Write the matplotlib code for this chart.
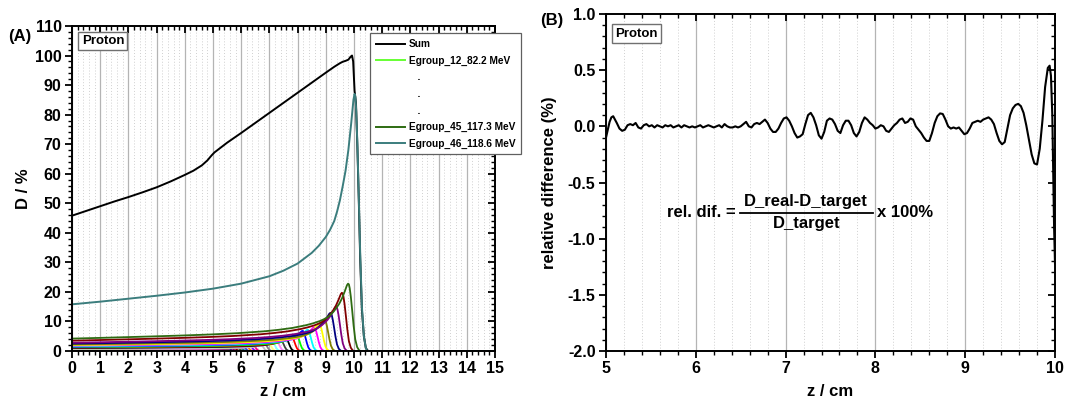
import numpy as np
import matplotlib
matplotlib.use("Agg")
import matplotlib.pyplot as plt
from matplotlib.lines import Line2D
from matplotlib.ticker import MultipleLocator

plt.rcParams['font.family'] = ['Liberation Sans', 'DejaVu Sans']
plt.rcParams['font.weight'] = 'bold'

# ---------------- Panel A data ----------------
sum_z = [0, 0.5, 1, 1.5, 2, 2.5, 3, 3.5, 4, 4.3, 4.6, 4.8, 4.95, 5.05, 5.5, 6, 6.5, 7, 7.5,
         8, 8.5, 9, 9.3, 9.5, 9.6, 9.7, 9.8, 9.88, 9.93, 9.97, 10.02, 10.07, 10.12, 10.17,
         10.22, 10.28, 10.35, 10.42, 10.5, 15]
sum_d = [45.8, 47.4, 49.0, 50.6, 52.1, 53.7, 55.4, 57.4, 59.6, 61.0, 62.8, 64.5, 66.2, 67.2,
         70.5, 73.8, 77.2, 80.6, 84.0, 87.4, 90.8, 94.2, 96.2, 97.4, 97.9, 98.2, 98.6, 99.6,
         100.0, 98.0, 88.0, 84.0, 69.0, 51.0, 31.0, 14.0, 5.0, 1.0, 0.0, 0.0]

# Egroup_46 (largest contribution)
g46_z = [0, 1, 2, 3, 4, 5, 6, 7, 7.5, 8, 8.5, 8.75, 9, 9.15, 9.3, 9.4, 9.5, 9.6, 9.7, 9.8,
         9.85, 9.9, 9.95, 9.98, 10.02]
g46_d = [15.8, 16.7, 17.7, 18.7, 19.8, 21.1, 22.8, 25.3, 27.2, 29.6, 33.2, 35.6, 38.6, 41.0,
         44.0, 47.2, 51.0, 55.8, 61.0, 68.0, 72.5, 77.0, 82.0, 85.0, 87.0]
g46_fall_dz = [0.03, 0.06, 0.10, 0.15, 0.20, 0.26, 0.33, 0.40, 0.45]
g46_fall_d = [86.0, 81.0, 70.0, 52.0, 33.0, 15.0, 5.0, 1.0, 0.0]

# Egroups 12..45: peak depth, peak dose, entrance dose
grp_ids = list(range(12, 46))
grp_peak_z = [4.98, 5.07, 5.16, 5.25, 5.34, 5.43, 5.53, 5.63, 5.73, 5.84, 5.95, 6.06,
              6.18, 6.30, 6.42, 6.55, 6.68, 6.82, 6.96, 7.10, 7.25, 7.40, 7.58, 7.78,
              7.95, 8.17, 8.35, 8.58, 8.76, 8.95, 9.16, 9.36, 9.57, 9.79]
grp_peak_d = [0.7, 0.75, 0.8, 0.85, 0.9, 0.95, 1.0, 1.1, 1.2, 1.3, 1.4, 1.5, 1.6, 1.7,
              1.8, 2.0, 2.2, 2.4, 2.6, 2.9, 3.2, 3.6, 4.2, 4.8, 5.5, 6.8, 7.2, 8.0, 9.2,
              10.5, 12.9, 15.0, 19.7, 22.8]
grp_entr_d = [0.30, 0.32, 0.34, 0.36, 0.38, 0.40, 0.42, 0.45, 0.48, 0.50, 0.52, 0.55,
              0.58, 0.60, 0.65, 0.70, 0.75, 0.80, 0.85, 0.90, 0.95, 1.00, 1.10, 1.20,
              1.30, 1.45, 1.60, 1.80, 2.00, 2.20, 2.50, 2.80, 3.50, 4.20]
grp_colors = ['#66ff33', '#0000ff', '#00ffff', '#ff00ff', '#ffff00', '#808000', '#000080',
              '#800080', '#800000', '#2e6b12', '#008080', '#3333cc', '#ff8000', '#8000ff',
              '#ff0080', '#ffffff', '#c0c0c0', '#808080', '#ffff80', '#80ffff', '#ff80ff',
              '#404040', '#000000', '#ff0000', '#00ff00', '#0000ff', '#00ffff', '#ff00ff',
              '#ffff00', '#808000', '#000080', '#800080', '#800000', '#2e6b12']
g46_color = '#3b7d7d'

# ---------------- Panel B data ----------------
rd_z = [5.00, 5.02, 5.04, 5.06, 5.08, 5.10, 5.12, 5.15, 5.18, 5.21, 5.24, 5.27, 5.30, 5.33,
        5.36, 5.39, 5.42, 5.45, 5.48, 5.51, 5.54, 5.57, 5.60, 5.63, 5.66, 5.69, 5.72, 5.75,
        5.78, 5.81, 5.84, 5.87, 5.90, 5.93, 5.96, 5.99, 6.02, 6.05, 6.08, 6.11, 6.14, 6.17,
        6.20, 6.23, 6.26, 6.29, 6.32, 6.35, 6.38, 6.41, 6.44, 6.47, 6.50, 6.53, 6.56, 6.59,
        6.62, 6.65, 6.68, 6.71, 6.74, 6.77, 6.80, 6.83, 6.86, 6.89, 6.92, 6.95, 6.98, 7.01,
        7.04, 7.07, 7.10, 7.13, 7.16, 7.19, 7.22, 7.25, 7.28, 7.31, 7.34, 7.37, 7.40, 7.43,
        7.46, 7.49, 7.52, 7.55, 7.58, 7.61, 7.64, 7.67, 7.70, 7.73, 7.76, 7.79, 7.82, 7.85,
        7.88, 7.91, 7.94, 7.97, 8.00, 8.03, 8.06, 8.09, 8.12, 8.15, 8.18, 8.21, 8.24, 8.27,
        8.30, 8.33, 8.36, 8.39, 8.42, 8.45, 8.48, 8.51, 8.54, 8.57, 8.60, 8.63, 8.66, 8.69,
        8.72, 8.75, 8.78, 8.81, 8.84, 8.87, 8.90, 8.93, 8.96, 8.99, 9.02, 9.05, 9.08, 9.11,
        9.14, 9.17, 9.20, 9.23, 9.26, 9.29, 9.32, 9.35, 9.38, 9.41, 9.44, 9.47, 9.50, 9.53,
        9.56, 9.59, 9.62, 9.65, 9.68, 9.71, 9.74, 9.77, 9.80, 9.83, 9.86, 9.89, 9.92, 9.94,
        9.955, 9.97, 9.98, 9.99, 10.0]
rd_v = [-0.10, -0.03, 0.04, 0.08, 0.09, 0.06, 0.03, -0.02, -0.04, -0.03, 0.01, 0.02, 0.01,
        0.03, -0.01, -0.02, 0.01, 0.02, 0.00, 0.01, -0.01, 0.01, 0.00, -0.01, 0.01, 0.00,
        0.01, -0.01, 0.00, 0.01, -0.01, 0.01, 0.00, -0.01, 0.00, -0.01, 0.00, 0.01, -0.01,
        0.00, 0.01, 0.00, -0.01, 0.00, 0.01, -0.01, 0.02, 0.00, -0.01, -0.01, 0.00, -0.01,
        0.00, 0.02, 0.04, 0.00, -0.01, 0.02, 0.03, 0.02, 0.04, 0.06, 0.03, -0.02, -0.05,
        -0.05, -0.02, 0.03, 0.07, 0.08, 0.05, 0.00, -0.06, -0.10, -0.09, -0.07, 0.02, 0.10,
        0.12, 0.08, 0.01, -0.08, -0.11, -0.05, 0.05, 0.07, 0.06, 0.02, -0.04, -0.06, 0.01,
        0.05, 0.05, 0.01, -0.06, -0.09, -0.05, 0.03, 0.08, 0.06, 0.03, 0.01, -0.02, -0.01,
        0.01, 0.00, -0.04, -0.05, -0.02, 0.01, 0.03, 0.06, 0.07, 0.03, 0.04, 0.07, 0.06,
        0.00, -0.03, -0.06, -0.10, -0.13, -0.13, -0.06, 0.03, 0.09, 0.115, 0.11, 0.06, 0.00,
        -0.02, -0.01, -0.02, -0.01, -0.04, -0.07, -0.06, -0.02, 0.03, 0.04, 0.05, 0.04, 0.06,
        0.07, 0.08, 0.06, 0.02, -0.06, -0.13, -0.16, -0.14, -0.02, 0.10, 0.16, 0.19, 0.20,
        0.18, 0.12, 0.01, -0.12, -0.25, -0.33, -0.34, -0.20, 0.05, 0.35, 0.52, 0.54, 0.45,
        0.10, -0.40, -0.90, -1.22]

# ---------------- Figure ----------------
W, H = 1067, 403
fig = plt.figure(figsize=(W / 100, H / 100), dpi=100)
axA = fig.add_axes([72 / W, 1 - 351 / H, (495 - 72) / W, (351 - 26) / H])
axB = fig.add_axes([606 / W, 1 - 351 / H, (1055 - 606) / W, (351 - 14) / H])

TICK_FS = 11.5
LABEL_FS = 12


def style_axes(ax):
    for s in ax.spines.values():
        s.set_linewidth(1.4)
    ax.tick_params(which='both', top=True, right=True, labelsize=TICK_FS, pad=2.5)
    ax.tick_params(which='major', length=5, width=1.3)
    ax.tick_params(which='minor', length=3, width=1.0)
    ax.tick_params(which='both', direction='out')
    ax.grid(True, which='major', axis='x', color='#b4b4b4', lw=0.9, ls='-')
    ax.grid(True, which='minor', axis='x', color='#d0d0d0', lw=0.7, ls=(0, (1, 2)))
    ax.set_axisbelow(True)
    for lab in ax.get_xticklabels() + ax.get_yticklabels():
        lab.set_fontweight('bold')


# Panel A
axA.plot(sum_z, sum_d, color='black', lw=1.4, label='Sum')
for gid, pz, pd, ed, col in zip(grp_ids, grp_peak_z, grp_peak_d, grp_entr_d, grp_colors):
    tz = np.array(g46_z)
    td = np.array(g46_d)
    g = (td - td[0]) / (td[-1] - td[0])
    zz = np.concatenate([tz / g46_z[-1] * pz, pz + np.array(g46_fall_dz) * pz / g46_z[-1], [15]])
    dd = np.concatenate([ed + (pd - ed) * g, pd * np.array(g46_fall_d) / g46_d[-1], [0]])
    axA.plot(zz, dd, color=col, lw=1.3)
z46 = list(g46_z) + [g46_z[-1] + d for d in g46_fall_dz] + [15]
d46 = list(g46_d) + list(g46_fall_d) + [0]
axA.plot(z46, d46, color=g46_color, lw=1.4)

axA.set_xlim(0, 15)
axA.set_ylim(0, 110)
axA.xaxis.set_major_locator(MultipleLocator(1))
axA.xaxis.set_minor_locator(MultipleLocator(0.2))
axA.yaxis.set_major_locator(MultipleLocator(10))
axA.yaxis.set_minor_locator(MultipleLocator(2))
style_axes(axA)
axA.set_xlabel('z / cm', fontsize=LABEL_FS, fontweight='bold')
axA.set_ylabel('D / %', fontsize=LABEL_FS, fontweight='bold')
axA.xaxis.set_label_coords(0.5, -0.10)
axA.yaxis.set_label_coords(-0.098, 0.5)

axA.text(0.073, 0.954, 'Proton', transform=axA.transAxes, ha='center', va='center',
         fontsize=9.5, fontweight='bold',
         bbox=dict(boxstyle='square,pad=0.25', fc='white', ec='#707070', lw=1.0))

blank = Line2D([], [], color='none')
handles = [Line2D([], [], color='black', lw=1.4), Line2D([], [], color='#66ff33', lw=1.4),
           blank, blank, blank,
           Line2D([], [], color='#2e6b12', lw=1.4), Line2D([], [], color=g46_color, lw=1.4)]
labels = ['Sum', 'Egroup_12_82.2 MeV', '   .', '   .', '   .',
          'Egroup_45_117.3 MeV', 'Egroup_46_118.6 MeV']
leg = axA.legend(handles, labels, loc='upper left', bbox_to_anchor=(0.705, 0.977),
                 prop={'size': 7.3, 'weight': 'bold', 'family': 'Liberation Sans'},
                 handlelength=2.9, handletextpad=0.35, labelspacing=0.65, borderpad=0.55,
                 borderaxespad=0.0, fancybox=False, framealpha=1, edgecolor='#606060')
leg.get_frame().set_linewidth(0.9)
leg.set_zorder(10)

# Panel B
axB.plot(rd_z, rd_v, color='black', lw=1.5)
axB.set_xlim(5, 10)
axB.set_ylim(-2.0, 1.0)
axB.xaxis.set_major_locator(MultipleLocator(1))
axB.xaxis.set_minor_locator(MultipleLocator(0.2))
axB.yaxis.set_major_locator(MultipleLocator(0.5))
axB.yaxis.set_minor_locator(MultipleLocator(0.1))
style_axes(axB)
axB.yaxis.set_major_formatter(matplotlib.ticker.FormatStrFormatter('%.1f'))
axB.set_xlabel('z / cm', fontsize=LABEL_FS, fontweight='bold')
axB.set_ylabel('relative difference (%)', fontsize=LABEL_FS, fontweight='bold')
axB.xaxis.set_label_coords(0.5, -0.098)
axB.yaxis.set_label_coords(-0.11, 0.5)

axB.text(0.067, 0.942, 'Proton', transform=axB.transAxes, ha='center', va='center',
         fontsize=9.5, fontweight='bold',
         bbox=dict(boxstyle='square,pad=0.25', fc='white', ec='#707070', lw=1.0))

# formula
FML_FS = 12
axB.text(6.44, -0.77, 'rel. dif. =', ha='right', va='center', fontsize=FML_FS,
         fontweight='bold')
axB.text(7.23, -0.735, 'D_real-D_target', ha='center', va='bottom', fontsize=FML_FS,
         fontweight='bold')
axB.text(7.23, -0.80, 'D_target', ha='center', va='top', fontsize=FML_FS, fontweight='bold')
axB.add_line(Line2D([6.49, 7.97], [-0.77, -0.77], color='black', lw=1.3))
axB.text(8.02, -0.77, 'x 100%', ha='left', va='center', fontsize=FML_FS, fontweight='bold')

# inward mirrored ticks on top/right
for ax in (axA, axB):
    ax.tick_params(which='both', top=True, right=True, labeltop=False, labelright=False)
    for t in ax.xaxis.get_major_ticks() + ax.xaxis.get_minor_ticks():
        t.tick2line.set_marker(matplotlib.markers.TICKDOWN)
    for t in ax.yaxis.get_major_ticks() + ax.yaxis.get_minor_ticks():
        t.tick2line.set_marker(matplotlib.markers.TICKLEFT)

fig.text(8 / W, 1 - 37 / H, '(A)', ha='left', va='center', fontsize=12, fontweight='bold')
fig.text(540 / W, 1 - 20 / H, '(B)', ha='left', va='center', fontsize=12, fontweight='bold')

fig.savefig('out.png', dpi=100)
